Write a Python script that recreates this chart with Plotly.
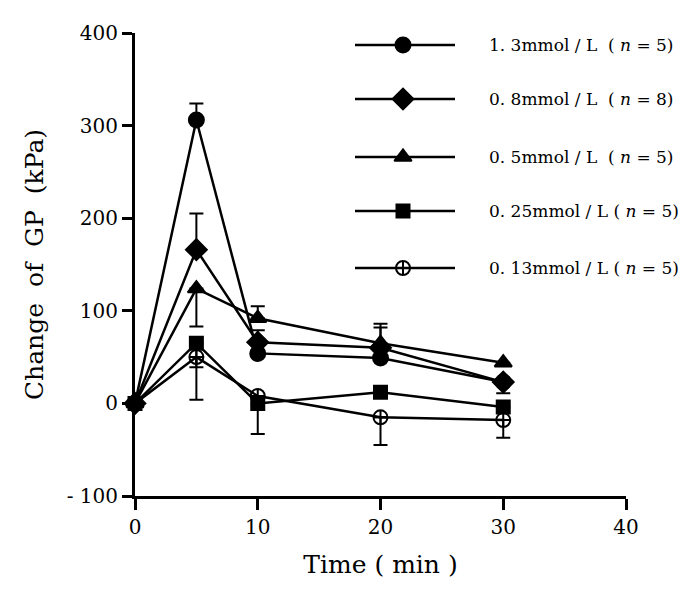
import plotly.graph_objects as go

time_min = [0, 5, 10, 20, 30]

labels = ["1. 3mmol / L  ( <i>n</i> = 5)",
          "0. 8mmol / L  ( <i>n</i> = 8)",
          "0. 5mmol / L  ( <i>n</i> = 5)",
          "0. 25mmol / L ( <i>n</i> = 5)",
          "0. 13mmol / L ( <i>n</i> = 5)"]

gp_13 = [0, 306, 54, 49, 23]
gp_08 = [0, 166, 66, 60, 23]
gp_05 = [0, 124, 92, 65, 44]
gp_025 = [0, 65, 0, 12, -4]
gp_013 = [0, 50, 8, -15, -18]

err_up_13 = [0, 18, 0, 0, 0]
err_dn_13 = [0, 0, 0, 0, 0]
err_up_08 = [0, 39, 13, 22, 0]
err_dn_08 = [0, 0, 0, 0, 12]
err_up_05 = [0, 0, 13, 21, 0]
err_dn_05 = [0, 41, 0, 0, 0]
err_up_025 = [0, 0, 0, 0, 0]
err_dn_025 = [0, 26, 33, 0, 0]
err_up_013 = [0, 0, 0, 0, 0]
err_dn_013 = [0, 46, 0, 30, 19]

x_ticks = [0, 10, 20, 30, 40]
y_ticks = [-100, 0, 100, 200, 300, 400]
y_tick_text = ["- 100", "0", "100", "200", "300", "400"]

FONT = "DejaVu Serif"

series = [
    (gp_13, err_up_13, err_dn_13, "circle", 15),
    (gp_08, err_up_08, err_dn_08, "diamond", 16),
    (gp_05, err_up_05, err_dn_05, "triangle-up", 15),
    (gp_025, err_up_025, err_dn_025, "square", 13),
    (gp_013, err_up_013, err_dn_013, "circle-cross-open", 14),
]

fig = go.Figure()
for (vals, up, dn, sym, sz), lab in zip(series, labels):
    fig.add_trace(go.Scatter(
        x=time_min, y=vals, mode="lines+markers", name=lab,
        line=dict(color="black", width=2.5),
        marker=dict(symbol=sym, size=sz, color="black",
                    line=dict(color="black", width=2)),
        error_y=dict(type="data", symmetric=False, array=up, arrayminus=dn,
                     color="black", thickness=2, width=7),
        cliponaxis=False, showlegend=False,
    ))

# hand-drawn legend in a pixel-like overlay axis
leg_rows = [45, 99, 157, 211, 268]
for (vals, up, dn, sym, sz), lab, ry in zip(series, labels, leg_rows):
    fig.add_trace(go.Scatter(
        x=[355, 403, 455], y=[ry, ry, ry], mode="lines",
        line=dict(color="black", width=2.5),
        xaxis="x2", yaxis="y2", showlegend=False, hoverinfo="skip"))
    fig.add_trace(go.Scatter(
        x=[403], y=[ry], mode="markers",
        marker=dict(symbol=sym, size=sz, color="black",
                    line=dict(color="black", width=2)),
        xaxis="x2", yaxis="y2", showlegend=False, hoverinfo="skip",
        cliponaxis=False))
    fig.add_annotation(x=487, y=ry, xref="x2", yref="y2", text=lab,
                       showarrow=False, xanchor="left", yanchor="middle",
                       font=dict(family=FONT, size=17, color="black"))

fig.update_layout(
    width=700, height=597,
    margin=dict(l=127, r=82, t=25, b=109),
    paper_bgcolor="white", plot_bgcolor="white",
    font=dict(family=FONT, color="black"),
    xaxis=dict(range=[0, 40], tickvals=x_ticks, ticks="outside", ticklen=11,
               tickwidth=2.5, tickcolor="black", showline=True, linecolor="black",
               linewidth=3, showgrid=False, zeroline=False,
               tickfont=dict(family=FONT, size=20, color="black"),
               title=dict(text="Time ( min )", standoff=18,
                          font=dict(family=FONT, size=25, color="black"))),
    yaxis=dict(range=[-100, 400], tickvals=y_ticks, ticktext=y_tick_text,
               ticks="outside", ticklen=10, tickwidth=2.5, tickcolor="black",
               showline=True, linecolor="black", linewidth=3, showgrid=False,
               zeroline=False,
               tickfont=dict(family=FONT, size=20, color="black"),
               title=dict(text="Change\u00a0\u00a0of\u00a0\u00a0GP\u00a0\u00a0(kPa)",
                          standoff=16,
                          font=dict(family=FONT, size=25, color="black"))),
    xaxis2=dict(range=[135, 626], overlaying="x", visible=False, anchor="y2"),
    yaxis2=dict(range=[496, 33], overlaying="y", visible=False, anchor="x2"),
)

fig.write_html("out.html")
